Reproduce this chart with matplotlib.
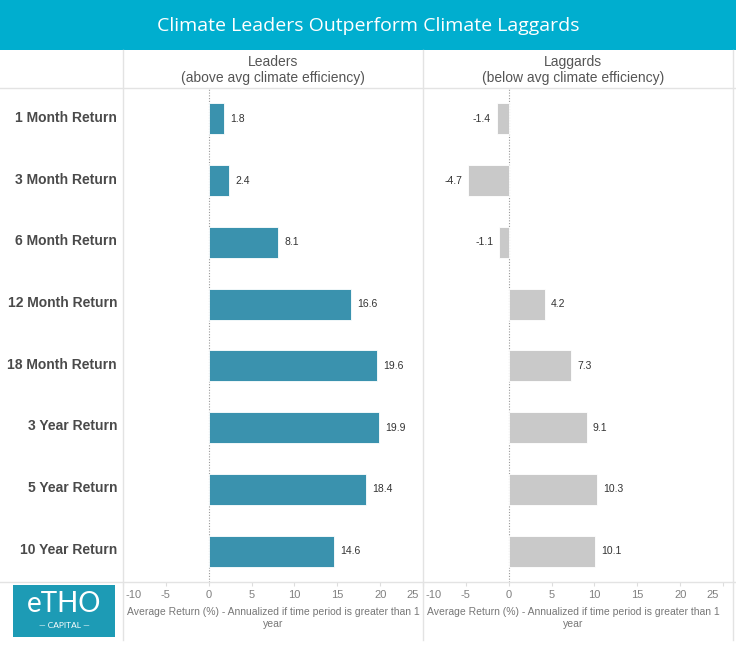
import numpy as np
import matplotlib.pyplot as plt
from matplotlib.patches import Rectangle

plt.rcParams['font.family'] = ['Liberation Sans', 'DejaVu Sans']

# data
categories = ["1 Month Return", "3 Month Return", "6 Month Return", "12 Month Return",
              "18 Month Return", "3 Year Return", "5 Year Return", "10 Year Return"]
leaders = [1.8, 2.4, 8.1, 16.6, 19.6, 19.9, 18.4, 14.6]
laggards = [-1.4, -4.7, -1.1, 4.2, 7.3, 9.1, 10.3, 10.1]
ticks = [-10, -5, 0, 5, 10, 15, 20, 25]

W, H = 736, 647
fig = plt.figure(figsize=(W / 100, H / 100), dpi=100)
fig.patch.set_facecolor('white')


def fx(px):
    return px / W


def fy(py):
    return 1 - py / H


# title banner
fig.patches.append(Rectangle((0, fy(50)), 1, 50 / H, transform=fig.transFigure,
                             facecolor='#00AECF', edgecolor='none', zorder=0))
fig.text(0.5, fy(26), "Climate Leaders Outperform Climate Laggards", color='white',
         fontsize=14, family='Open Sans', ha='center', va='center')

grid_c = '#E3E3E3'
# frame lines
for x in [123, 423, 733]:
    fig.add_artist(plt.Line2D([fx(x), fx(x)], [fy(50), fy(640)], transform=fig.transFigure,
                              color=grid_c, lw=1))
for y in [88, 582]:
    fig.add_artist(plt.Line2D([0, 1], [fy(y), fy(y)], transform=fig.transFigure,
                              color=grid_c, lw=1))

panels = [
    (123, leaders, '#3A92AE', "Leaders\n(above avg climate efficiency)"),
    (423, laggards, '#C9C9C9', "Laggards\n(below avg climate efficiency)"),
]

for left_px, vals, color, header in panels:
    ax = fig.add_axes([fx(left_px), fy(582), 300 / W, (582 - 88) / H])
    ax.set_facecolor('none')
    y = np.arange(len(categories))
    ax.barh(y, vals, height=0.5, color=color, edgecolor='white', linewidth=0.6, zorder=2)
    ax.axvline(0, color='#999999', lw=0.8, ls=(0, (1, 1.5)), zorder=1)
    for yi, v in zip(y, vals):
        if v >= 0:
            ax.text(v + 0.7, yi, f"{v:.1f}", va='center', ha='left', fontsize=7.5, color='#333333')
        else:
            ax.text(v - 0.7, yi, f"{v:.1f}", va='center', ha='right', fontsize=7.5, color='#333333')
    ax.set_xlim(-10, 25)
    ax.set_ylim(len(categories) - 0.5, -0.5)
    ax.set_yticks([])
    ax.set_xticks(ticks)
    ax.set_xticklabels([])
    ax.tick_params(axis='x', length=3, color='#DDDDDD')
    # tick labels drawn by hand so the edge ones can sit inside the panel
    for t in ticks:
        if t == ticks[0]:
            ha, dx = 'left', 2
        elif t == ticks[-1]:
            ha, dx = 'right', -3
        else:
            ha, dx = 'center', 0
        ax.annotate(str(t), (t, 0), xycoords=('data', 'axes fraction'),
                    xytext=(dx, -9), textcoords='offset points', ha=ha, va='center',
                    fontsize=8, color='#808080')
    for s in ax.spines.values():
        s.set_visible(False)
    fig.text(fx(left_px + 150), fy(70), header, ha='center', va='center',
             fontsize=10, color='#555555', linespacing=1.15)
    fig.text(fx(left_px + 150), fy(618),
             "Average Return (%) - Annualized if time period is greater than 1\nyear",
             ha='center', va='center', fontsize=7.5, color='#777777', linespacing=1.25)

# row labels
for i, c in enumerate(categories):
    ycen = 118 + i * 61.7
    fig.text(fx(117), fy(ycen), c, ha='right', va='center', fontsize=10,
             fontweight='bold', color='#4A4A4A')

# logo
fig.patches.append(Rectangle((fx(13), fy(637)), 102 / W, 52 / H, transform=fig.transFigure,
                             facecolor='#1D9BB5', edgecolor='none'))
fig.text(fx(64), fy(604), "eTHO", color='white', fontsize=20, ha='center', va='center',
         family='Lato')
fig.text(fx(64), fy(626), "— CAPITAL —", color='white', fontsize=6, ha='center', va='center',
         family='Lato')

fig.savefig('out.png', dpi=100)
